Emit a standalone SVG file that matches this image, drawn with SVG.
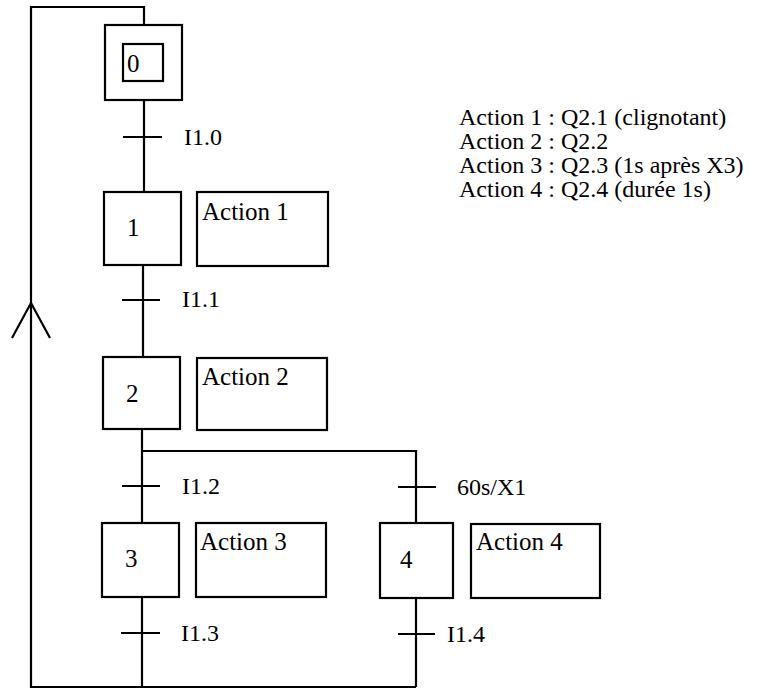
<svg xmlns="http://www.w3.org/2000/svg" width="763" height="690" viewBox="0 0 763 690">
<style>
.b{fill:#fff;stroke:#000;stroke-width:2.2}
.l{fill:none;stroke:#000;stroke-width:2.2}
.t{font-family:"Liberation Serif","Times New Roman",serif;font-size:24px;fill:#000}
.a{font-family:"Liberation Serif","Times New Roman",serif;font-size:25px;fill:#000}
.s{font-family:"Liberation Serif","Times New Roman",serif;font-size:24px;fill:#000}
</style>
<rect width="763" height="690" fill="#fff"/>
<g id="connectors">
<polyline class="l" points="144,25 144,7 31,7 31,687 416,687"/>
<polyline class="l" points="12,338 31,303 50,338"/>
<line class="l" x1="144" y1="100" x2="144" y2="192"/>
<line class="l" x1="123" y1="137" x2="162" y2="137"/>
<line class="l" x1="143" y1="265" x2="143" y2="357"/>
<line class="l" x1="122" y1="300" x2="160" y2="300"/>
<line class="l" x1="142" y1="429" x2="142" y2="523"/>
<polyline class="l" points="142,451 416,451 416,523"/>
<line class="l" x1="122" y1="486" x2="160" y2="486"/>
<line class="l" x1="398" y1="487" x2="436" y2="487"/>
<line class="l" x1="142" y1="597" x2="142" y2="687"/>
<line class="l" x1="416" y1="598" x2="416" y2="687"/>
<line class="l" x1="121" y1="633" x2="160" y2="633"/>
<line class="l" x1="398" y1="634" x2="435" y2="634"/>
<text class="t" x="184" y="145">I1.0</text>
<text class="t" x="182" y="307">I1.1</text>
<text class="t" x="182" y="494">I1.2</text>
<text class="t" x="457" y="495">60s/X1</text>
<text class="t" x="181" y="641">I1.3</text>
<text class="t" x="447" y="642">I1.4</text>
</g>
<g id="step0">
<rect class="b" x="105" y="25" width="77" height="75"/>
<rect class="b" x="123" y="44" width="40" height="37"/>
<text class="a" x="127" y="72">0</text>
</g>
<g id="step1">
<rect class="b" x="104" y="192" width="77" height="73"/>
<text class="a" x="127" y="236">1</text>
</g>
<g id="action1">
<rect class="b" x="197" y="192" width="131" height="74"/>
<text class="a" x="202" y="220">Action 1</text>
</g>
<g id="step2">
<rect class="b" x="103" y="357" width="77" height="72"/>
<text class="a" x="126" y="402">2</text>
</g>
<g id="action2">
<rect class="b" x="197" y="358" width="130" height="72"/>
<text class="a" x="202" y="385">Action 2</text>
</g>
<g id="step3">
<rect class="b" x="102" y="523" width="77" height="74"/>
<text class="a" x="125" y="567">3</text>
</g>
<g id="action3">
<rect class="b" x="196" y="523" width="130" height="74"/>
<text class="a" x="200" y="550">Action 3</text>
</g>
<g id="step4">
<rect class="b" x="380" y="523" width="73" height="75"/>
<text class="a" x="400" y="568">4</text>
</g>
<g id="action4">
<rect class="b" x="471" y="524" width="129" height="74"/>
<text class="a" x="476" y="550">Action 4</text>
</g>
<g id="legend">
<text class="s" x="459" y="125">Action 1 : Q2.1 (clignotant)</text>
<text class="s" x="459" y="149">Action 2 : Q2.2</text>
<text class="s" x="459" y="173">Action 3 : Q2.3 (1s après X3)</text>
<text class="s" x="459" y="197">Action 4 : Q2.4 (durée 1s)</text>
</g>
</svg>
